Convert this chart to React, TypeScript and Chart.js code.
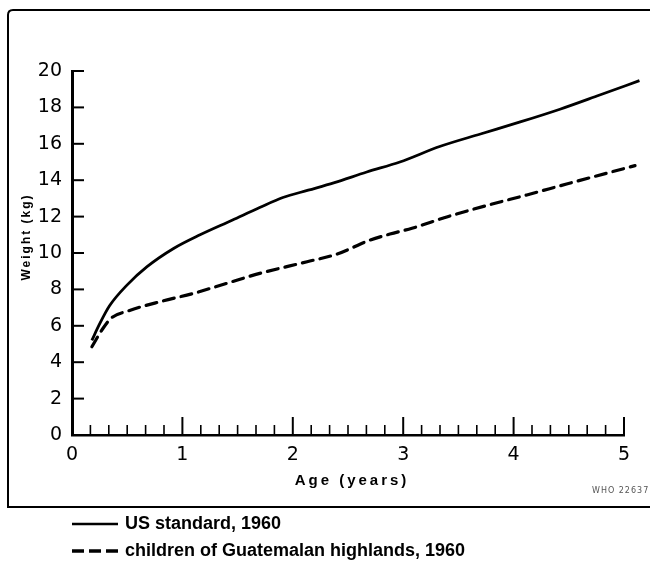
import React, { useEffect, useRef } from "react";
import { Chart, registerables } from "chart.js";

Chart.register(...registerables);

// ---- data ----
const usAge = [0.18, 0.25, 0.34, 0.5, 0.68, 0.92, 1.16, 1.45, 1.7, 1.91, 2.14, 2.37, 2.67, 2.97, 3.33, 3.7, 4.06, 4.42, 4.78, 5.14];
const usWeight = [5.2, 6.1, 7.1, 8.25, 9.25, 10.25, 11.0, 11.8, 12.5, 13.05, 13.45, 13.85, 14.45, 15.0, 15.85, 16.54, 17.2, 17.9, 18.68, 19.47];

const guAge = [0.18, 0.28, 0.36, 0.5, 0.8, 1.1, 1.4, 1.7, 2.13, 2.4, 2.7, 2.88, 3.08, 3.41, 3.77, 4.12, 4.48, 4.84, 5.1];
const guWeight = [4.85, 5.85, 6.45, 6.8, 7.33, 7.78, 8.33, 8.88, 9.52, 9.94, 10.71, 11.04, 11.36, 12.01, 12.63, 13.19, 13.79, 14.38, 14.8];

const xMajorTicks = [0, 1, 2, 3, 4, 5];
const xMinorPerYear = 6;
const yTicks = [0, 2, 4, 6, 8, 10, 12, 14, 16, 18, 20];

const seriesLabels = ["US standard, 1960", "children of Guatemalan highlands, 1960"];
const xTitle = "Age (years)";
const yTitle = "Weight (kg)";
const sourceNote = "WHO 22637";

const toPoints = (xs: number[], ys: number[]) => xs.map((x, i) => ({ x, y: ys[i] }));

const decorPlugin = {
  id: "decor",
  beforeDraw(chart: any) {
    const ctx = chart.ctx;
    ctx.save();
    ctx.fillStyle = "#ffffff";
    ctx.fillRect(0, 0, chart.width, chart.height);
    ctx.restore();
  },
  afterDraw(chart: any) {
    const ctx: CanvasRenderingContext2D = chart.ctx;
    const xs = chart.scales.x;
    const ys = chart.scales.y;
    const base = ys.getPixelForValue(0);
    const left = xs.getPixelForValue(0);
    ctx.save();
    ctx.strokeStyle = "#000";
    ctx.fillStyle = "#000";

    // outer frame (open on the right)
    ctx.lineWidth = 2;
    ctx.beginPath();
    ctx.moveTo(chart.width + 2, 10);
    ctx.lineTo(13, 10);
    ctx.quadraticCurveTo(8, 10, 8, 15);
    ctx.lineTo(8, 507);
    ctx.lineTo(chart.width + 2, 507);
    ctx.stroke();

    // x tick marks (inward)
    const last = xMajorTicks[xMajorTicks.length - 1];
    for (let k = 1; k <= last * xMinorPerYear; k++) {
      const v = k / xMinorPerYear;
      const px = xs.getPixelForValue(v);
      const major = k % xMinorPerYear === 0;
      ctx.lineWidth = major ? 2 : 1.6;
      ctx.beginPath();
      ctx.moveTo(px, base);
      ctx.lineTo(px, base - (major ? 18 : 10));
      ctx.stroke();
    }
    // y tick marks (inward)
    ctx.lineWidth = 2;
    for (const v of yTicks) {
      if (v === 0) continue;
      const py = ys.getPixelForValue(v);
      ctx.beginPath();
      ctx.moveTo(left, py);
      ctx.lineTo(left + 12, py);
      ctx.stroke();
    }

    // axis titles (letter-spaced)
    (ctx as any).letterSpacing = "3px";
    ctx.font = "bold 15px 'Liberation Sans', Arial, sans-serif";
    ctx.textAlign = "center";
    ctx.textBaseline = "middle";
    ctx.fillText(xTitle, (xs.left + xs.right) / 2 + 4, 481);

    (ctx as any).letterSpacing = "2px";
    ctx.font = "bold 12px 'Liberation Sans', Arial, sans-serif";
    ctx.save();
    ctx.translate(27, 237);
    ctx.rotate(-Math.PI / 2);
    ctx.fillText(yTitle, 0, 0);
    ctx.restore();

    // source note
    (ctx as any).letterSpacing = "1px";
    ctx.font = "8px 'DejaVu Sans', sans-serif";
    ctx.fillStyle = "#555";
    ctx.textAlign = "left";
    ctx.fillText(sourceNote, 592, 491);
    (ctx as any).letterSpacing = "0px";

    // legend
    ctx.fillStyle = "#000";
    const lx0 = left;
    const lx1 = left + 46;
    const rows = [524, 551];
    chart.data.datasets.forEach((ds: any, i: number) => {
      const y = rows[i];
      ctx.save();
      ctx.lineWidth = i === 0 ? 2.5 : 3.5;
      ctx.setLineDash(i === 0 ? [] : [12, 5]);
      ctx.beginPath();
      ctx.moveTo(lx0, y);
      ctx.lineTo(lx1, y);
      ctx.stroke();
      ctx.restore();
      ctx.font = "bold 18px 'Liberation Sans', Arial, sans-serif";
      ctx.textAlign = "left";
      ctx.textBaseline = "middle";
      ctx.fillText(ds.label, lx1 + 7, y);
    });
    ctx.restore();
  },
};

export default function App() {
  const ref = useRef<HTMLCanvasElement | null>(null);
  useEffect(() => {
    if (!ref.current) return;
    const tickFont = { family: "'DejaVu Sans', sans-serif", size: 19 };
    const chart = new Chart(ref.current, {
      type: "line",
      data: {
        datasets: [
          {
            label: seriesLabels[0],
            data: toPoints(usAge, usWeight),
            borderColor: "#000",
            borderWidth: 2.8,
            pointRadius: 0,
            cubicInterpolationMode: "monotone",
            clip: false,
            fill: false,
          } as any,
          {
            label: seriesLabels[1],
            data: toPoints(guAge, guWeight),
            borderColor: "#000",
            borderWidth: 3.2,
            borderDash: [11, 7],
            borderCapStyle: "round",
            pointRadius: 0,
            cubicInterpolationMode: "monotone",
            clip: false,
            fill: false,
          } as any,
        ],
      },
      options: {
        responsive: false,
        animation: false,
        events: [],
        layout: { padding: { left: 32, right: 26, top: 71, bottom: 89 } },
        plugins: { legend: { display: false }, tooltip: { enabled: false }, title: { display: false } },
        scales: {
          x: {
            type: "linear",
            min: xMajorTicks[0],
            max: xMajorTicks[xMajorTicks.length - 1],
            afterFit: (s: any) => { s.height = 40; },
            afterBuildTicks: (s: any) => { s.ticks = xMajorTicks.map((v) => ({ value: v })); },
            ticks: { stepSize: 1, font: tickFont, color: "#000", padding: 9, maxRotation: 0, autoSkip: false },
            grid: { display: false, drawTicks: false },
            border: { display: true, color: "#000", width: 2.5 },
          },
          y: {
            type: "linear",
            min: yTicks[0],
            max: yTicks[yTicks.length - 1],
            afterFit: (s: any) => { s.width = 40; },
            afterBuildTicks: (s: any) => { s.ticks = yTicks.map((v) => ({ value: v })); },
            ticks: { stepSize: 2, font: tickFont, color: "#000", padding: 10, autoSkip: false },
            grid: { display: false, drawTicks: false },
            border: { display: true, color: "#000", width: 3 },
          },
        },
      } as any,
      plugins: [decorPlugin],
    });
    return () => chart.destroy();
  }, []);
  return (
    <div style={{ position: "fixed", left: 0, top: 0, width: 650, height: 564, background: "#fff" }}>
      <canvas ref={ref} width={650} height={564} style={{ display: "block", width: 650, height: 564 }} />
    </div>
  );
}
